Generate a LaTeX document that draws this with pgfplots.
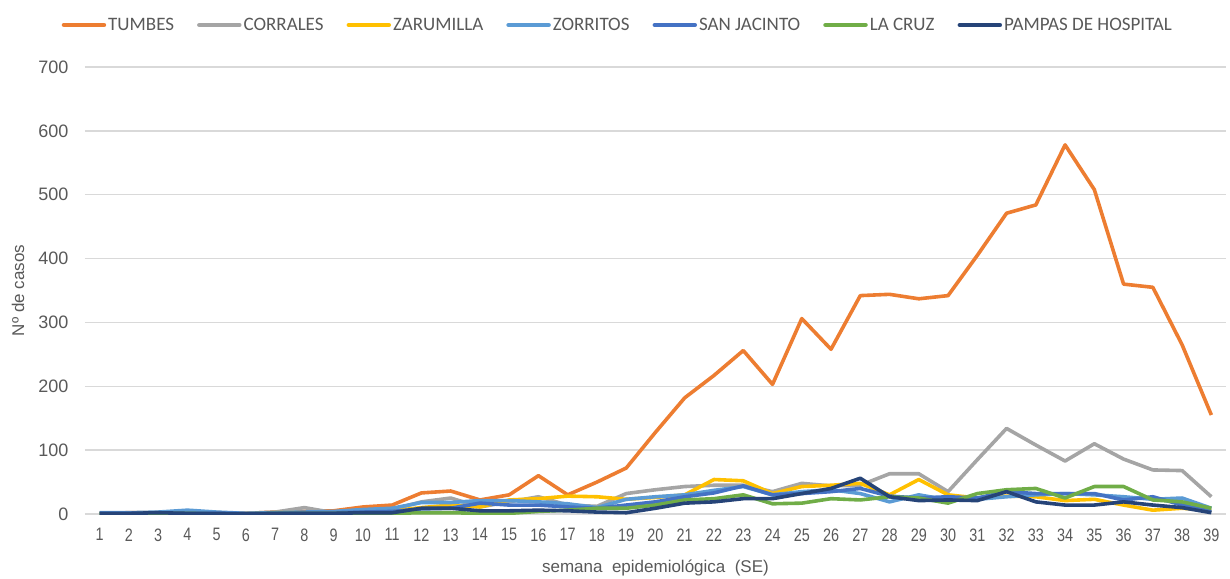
\documentclass[border=0pt]{standalone}
\usepackage{pgfplots}
\pgfplotsset{compat=1.18}
\usepackage{pgfplotstable}
\usepackage{fontspec}
\setmainfont{Liberation Sans}
\newfontfamily\legfont{Carlito}
\newfontfamily\narrowfont[FakeStretch=0.8]{Liberation Sans}
\definecolor{cTum}{HTML}{ED7D31}
\definecolor{cCor}{HTML}{A5A5A5}
\definecolor{cZar}{HTML}{FFC000}
\definecolor{cZor}{HTML}{5B9BD5}
\definecolor{cSan}{HTML}{4472C4}
\definecolor{cCru}{HTML}{70AD47}
\definecolor{cPam}{HTML}{264478}
\definecolor{txt}{HTML}{595959}
\definecolor{grd}{HTML}{D9D9D9}

\pgfplotstableread{
w tum cor zar zor san cru pam
1 1 1 1 2 1 0 1
2 2 1 1 2 1 0 1
3 2 2 1 3 1 1 2
4 2 2 1 6 1 1 1
5 2 2 1 3 1 0 1
6 1 1 1 1 1 0 0
7 3 3 2 2 1 1 1
8 4 10 2 3 2 1 1
9 5 2 2 4 2 1 1
10 11 6 3 7 3 1 2
11 14 7 5 9 4 1 2
12 33 19 10 18 8 2 9
13 36 25 14 18 9 2 9
14 22 11 11 21 17 1 5
15 30 19 22 21 14 1 5
16 60 27 24 19 14 4 6
17 30 14 28 16 11 6 5
18 50 12 27 10 9 9 3
19 72 32 23 23 14 9 2
20 128 38 26 27 19 14 9
21 182 43 30 30 27 22 17
22 217 45 54 37 33 24 19
23 256 45 52 43 44 30 24
24 203 35 32 30 30 16 24
25 306 48 43 35 32 17 32
26 258 44 45 38 35 24 40
27 342 45 48 32 40 22 56
28 344 63 30 19 28 27 27
29 337 63 54 30 25 25 21
30 342 35 30 22 27 17 22
31 405 85 25 23 25 32 21
32 471 134 28 27 35 38 35
33 484 108 27 30 32 40 19
34 578 83 21 32 32 25 14
35 508 110 23 30 32 43 14
36 360 86 14 27 22 43 19
37 355 69 6 23 27 22 14
38 265 68 9 25 14 19 10
39 155 27 6 9 4 9 2
}\datatable

\begin{document}
\begin{tikzpicture}
\begin{axis}[
  scale only axis,
  width=1141pt, height=447pt,
  xmin=0.5, xmax=39.5,
  ymin=0, ymax=700,
  xtick={1,...,39},
  ytick={0,100,...,700},
  axis x line*=bottom,
  axis y line*=left,
  y axis line style={draw=none},
  x axis line style={draw=grd, line width=1.3pt, -},
  ymajorgrids,
  grid style={draw=grd, line width=1.3pt},
  major tick length=0pt,
  /pgf/number format/assume math mode=true,
  yticklabel style={font=\fontsize{18}{20}\selectfont, text=txt, xshift=-13pt},
  xticklabel style={font=\narrowfont\fontsize{18}{20}\selectfont, text=txt, yshift=-11pt},
  xlabel={semana\ \ epidemiológica\ \ (SE)},
  ylabel={Nº de casos},
  label style={font=\fontsize{17}{20}\selectfont, text=txt},
  xlabel style={at={(axis description cs:0.5,0)}, anchor=center, yshift=-54pt},
  ylabel style={at={([xshift=-67pt]axis description cs:0,0.5)}, anchor=center},
  legend style={at={(axis description cs:0.467,1)}, anchor=center, yshift=42pt,
    draw=none, fill=none, font=\legfont\fontsize{19}{22}\selectfont, text=txt,
    inner sep=0pt,
    /tikz/every even column/.append style={column sep=21pt}},
  legend columns=-1,
  legend image code/.code={\draw[#1, line width=4.5pt, line cap=round] (0pt,0pt) -- (40pt,0pt);},
  every axis plot/.append style={line width=3.6pt, line join=round, mark=none},
]
\addplot[cTum] table[x=w,y=tum]{\datatable};
\addplot[cCor] table[x=w,y=cor]{\datatable};
\addplot[cZar] table[x=w,y=zar]{\datatable};
\addplot[cZor] table[x=w,y=zor]{\datatable};
\addplot[cSan] table[x=w,y=san]{\datatable};
\addplot[cCru] table[x=w,y=cru]{\datatable};
\addplot[cPam] table[x=w,y=pam]{\datatable};
\legend{TUMBES,CORRALES,ZARUMILLA,ZORRITOS,SAN JACINTO,LA CRUZ,PAMPAS DE HOSPITAL}
\end{axis}
\pgfresetboundingbox
\path (-85pt,-64pt) rectangle (1145pt,514pt);
\end{tikzpicture}
\end{document}
